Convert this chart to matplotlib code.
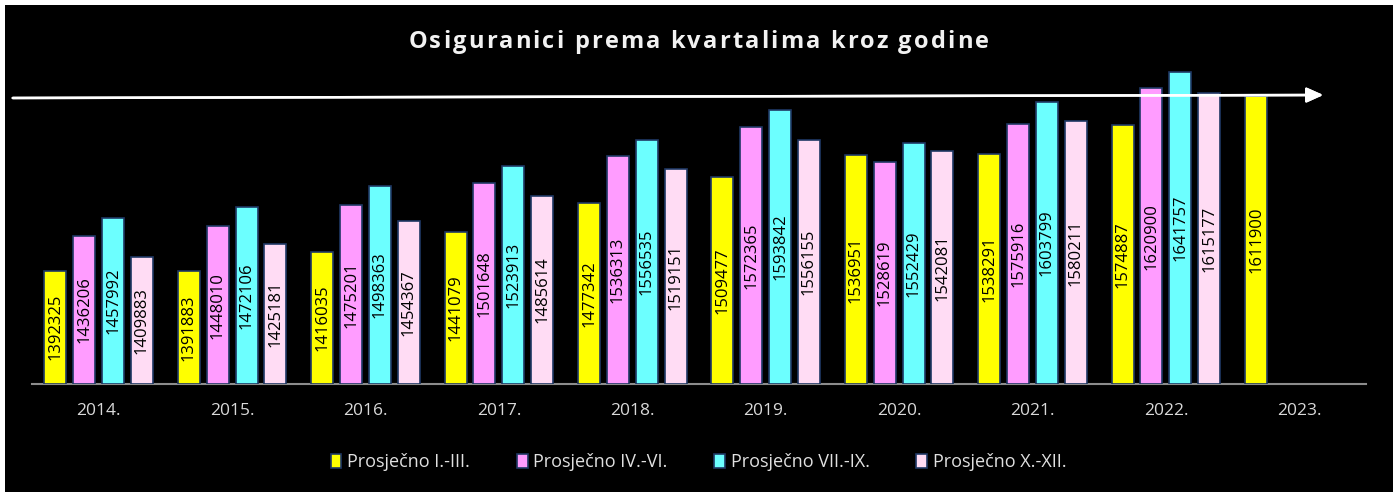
import numpy as np
import matplotlib.pyplot as plt
from matplotlib.patches import Rectangle

years = ["2014.", "2015.", "2016.", "2017.", "2018.", "2019.", "2020.", "2021.", "2022.", "2023."]
series_names = ["Prosječno I.-III.", "Prosječno IV.-VI.", "Prosječno VII.-IX.", "Prosječno X.-XII."]

q1 = [1392325, 1391883, 1416035, 1441079, 1477342, 1509477, 1536951, 1538291, 1574887, 1611900]
q2 = [1436206, 1448010, 1475201, 1501648, 1536313, 1572365, 1528619, 1575916, 1620900, None]
q3 = [1457992, 1472106, 1498363, 1523913, 1556535, 1593842, 1552429, 1603799, 1641757, None]
q4 = [1409883, 1425181, 1454367, 1485614, 1519151, 1556155, 1542081, 1580211, 1615177, None]

title = "Osiguranici prema kvartalima kroz godine"
colors = ["#ffff00", "#ff9cff", "#6cffff", "#ffdcf4"]
edge = "#1f3864"

W, H = 1397, 495
fig = plt.figure(figsize=(W / 100, H / 100), dpi=100, facecolor="white")
# black panel inside a thin white frame
fig.patches.append(Rectangle((5 / W, 3 / H), (1388) / W, (487) / H,
                             transform=fig.transFigure, facecolor="black",
                             edgecolor="none", zorder=-10))

ymin, ymax = 1250000, 1700000
px_per_unit = 0.000797
ax_left, ax_right, ax_bottom = 32, 1366, 111
ax_h = (ymax - ymin) * px_per_unit
ax = fig.add_axes([ax_left / W, ax_bottom / H, (ax_right - ax_left) / W, ax_h / H])
ax.set_facecolor("none")

x = np.arange(len(years))
step = 0.216
width = 0.165
for i, (vals, col, name) in enumerate(zip([q1, q2, q3, q4], colors, series_names)):
    xs = [xi + (i - 1.5) * step for xi, v in zip(x, vals) if v is not None]
    vs = [v for v in vals if v is not None]
    bars = ax.bar(xs, [v - ymin for v in vs], width, bottom=ymin, color=col,
                  edgecolor=edge, linewidth=1.2, label=name, zorder=3)
    for b, v in zip(bars, vs):
        ax.text(b.get_x() + b.get_width() / 2, (ymin + v) / 2, str(v),
                rotation=90, ha="center", va="center", fontsize=12,
                color="black", family="Open Sans", zorder=4)

ax.set_xlim(-0.5, len(years) - 0.5)
ax.set_ylim(ymin, ymax)
ax.set_xticks(x)
ax.set_xticklabels(years, color="#d9d9d9", fontsize=12.5, family="Open Sans")
ax.tick_params(axis="x", length=0, pad=14)
ax.set_yticks([])
for s in ["top", "right", "left"]:
    ax.spines[s].set_visible(False)
ax.spines["bottom"].set_color("#8c8c8c")
ax.spines["bottom"].set_linewidth(1.5)

# title with extra letter spacing, laid out character by character
renderer = fig.canvas.get_renderer()
tkw = dict(color="#f2f2f2", fontsize=17, fontweight="bold", family="Open Sans",
           va="center", ha="left")
tracking = 2.2  # px between letters


def text_width(s):
    t = fig.text(0, 0, s + "|", **tkw)
    w = t.get_window_extent(renderer).width
    t.remove()
    return w


bar_w = text_width("")
offsets = [text_width(title[:k]) - bar_w + k * tracking for k in range(len(title))]
total = text_width(title) - bar_w + (len(title) - 1) * tracking
x0 = (W - total) / 2
ty = 1 - 42 / H
for k, ch in enumerate(title):
    if ch != " ":
        fig.text((x0 + offsets[k]) / W, ty, ch, **tkw)

# trend arrow across the top
fig.add_artist(plt.annotate("", xy=(1326 / W, 1 - 95 / H), xytext=(10 / W, 1 - 98 / H),
                            xycoords="figure fraction", textcoords="figure fraction",
                            arrowprops=dict(arrowstyle="-|>,head_length=1.0,head_width=0.45",
                                            color="white", lw=1.8)))

leg = fig.legend(loc="center", bbox_to_anchor=(0.5, 1 - 462 / H), ncol=4,
                 frameon=False, handlelength=0.6, handleheight=0.8,
                 columnspacing=2.6, handletextpad=0.3, prop={"family": "Open Sans", "size": 13})
for t in leg.get_texts():
    t.set_color("#e0e0e0")

fig.savefig("out.png", dpi=100, facecolor=fig.get_facecolor())
